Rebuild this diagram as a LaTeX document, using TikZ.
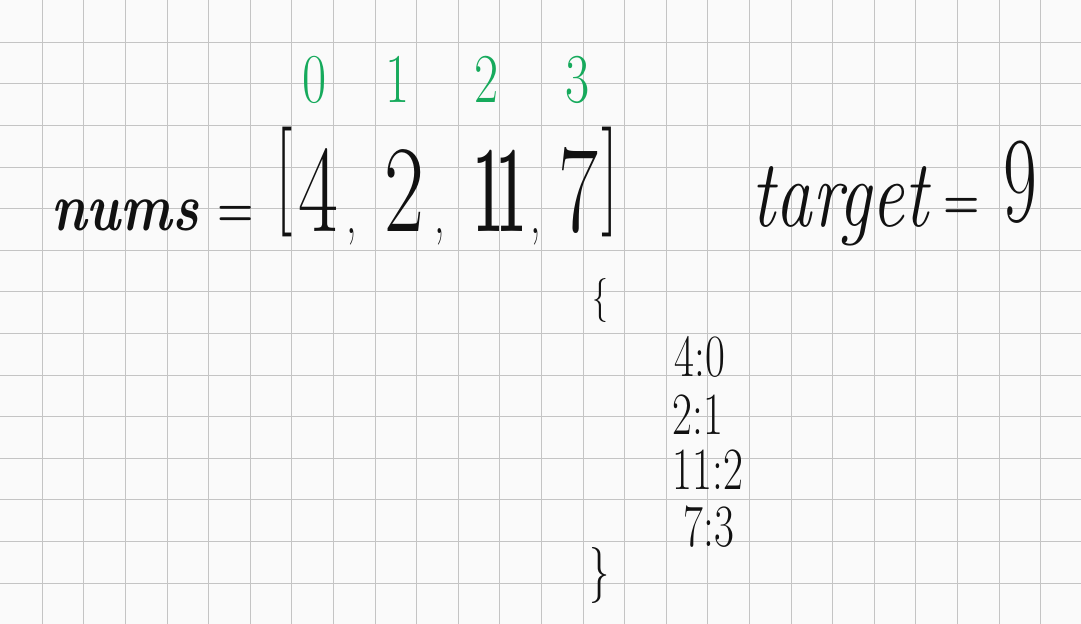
\documentclass[tikz,border=0pt]{standalone}
\usepackage{tikz}
\usetikzlibrary{positioning}
\definecolor{paper}{RGB}{250,250,250}
\definecolor{gridgray}{RGB}{196,196,196}
\definecolor{idxgreen}{RGB}{22,170,92}
\definecolor{ink}{RGB}{17,17,17}
\tikzset{
  gridline/.style={draw=gridgray, line width=0.55pt},
  bignum/.style={font=\fontsize{62}{62}\selectfont, text=ink, xscale=0.7, inner sep=0pt, anchor=base},
  idxnum/.style={font=\fontsize{35}{35}\selectfont, text=idxgreen, xscale=0.75, inner sep=0pt, anchor=base},
  dictrow/.style={font=\fontsize{30}{30}\selectfont, text=ink, xscale=0.72, inner sep=0pt, anchor=base},
  word/.style={font=\itshape, text=ink, inner sep=0pt, anchor=base},
  equals/.style={font=\bfseries\fontsize{26}{26}\selectfont, text=ink, xscale=0.8, inner sep=0pt, anchor=base}
}
\begin{document}
\begin{tikzpicture}[x=0.5pt, y=-0.5pt]
\useasboundingbox (0,0) rectangle (1081,624);
\fill[paper] (0,0) rectangle (1081,624);
% grid paper
\foreach \i in {1,...,25}
  \draw[gridline] (\i*41.6+0.7,0) -- (\i*41.6+0.7,624);
\foreach \j in {1,...,14}
  \draw[gridline] (0,\j*41.6+0.7) -- (1081,\j*41.6+0.7);

% indices
\node[idxnum] (i0) at (315,103) {0};
\node[idxnum] (i1) at (398,103) {1};
\node[idxnum] (i2) at (487,103) {2};
\node[idxnum] (i3) at (578,103) {3};

% nums = [4, 2, 11, 7]
\node[word, font=\bfseries\itshape\fontsize{34}{34}\selectfont, xscale=0.8] (nums) at (125,231) {nums};
\node[equals] (eq1) at (236,227) {=};
\node[bignum, font=\fontsize{55}{55}\selectfont, xscale=0.9] (lbr) at (284,210) {[};
\node[bignum] (n4) at (318,232) {4};
\node[bignum, font=\fontsize{30}{30}\selectfont] (c1) at (352,234) {,};
\node[bignum] (n2) at (404,232) {2};
\node[bignum, font=\fontsize{30}{30}\selectfont] (c2) at (440,234) {,};
\node[bignum, font=\bfseries\fontsize{62}{62}\selectfont, xscale=0.62] (n11) at (500,232) {1\kern-0.14em1};
\node[bignum, font=\fontsize{30}{30}\selectfont] (c3) at (536,234) {,};
\node[bignum] (n7) at (578,232) {7};
\node[bignum, font=\fontsize{55}{55}\selectfont, xscale=0.9] (rbr) at (610,210) {]};

% target = 9
\node[word, font=\itshape\fontsize{48}{48}\selectfont, xscale=0.76] (target) at (840,227) {target};
\node[equals] (eq2) at (962,219) {=};
\node[bignum, font=\fontsize{61}{61}\selectfont, xscale=0.86] (n9) at (1020,222) {9};

% value -> index map
\node[dictrow, font=\fontsize{22}{22}\selectfont] (lbrace) at (600,312) {\{};
\node[dictrow] (d0) at (700,377) {4:0};
\node[dictrow] (d1) at (698,435) {2:1};
\node[dictrow] (d2) at (708,490) {11:2};
\node[dictrow] (d3) at (709,546) {7:3};
\node[dictrow, font=\fontsize{28}{28}\selectfont] (rbrace) at (600,589) {\}};
\end{tikzpicture}
\end{document}
